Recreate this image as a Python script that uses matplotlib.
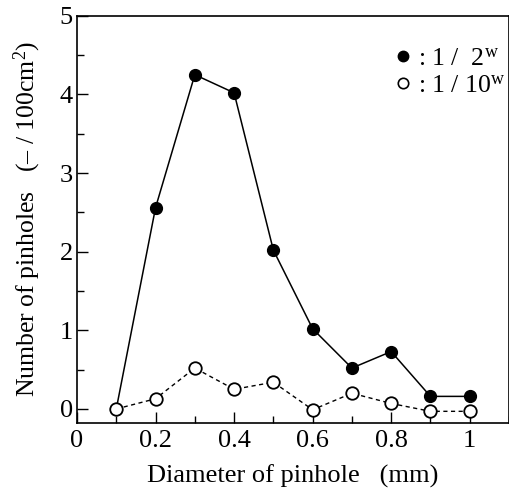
import matplotlib
matplotlib.use('Agg')
import matplotlib.pyplot as plt
from matplotlib.lines import Line2D
from matplotlib.ticker import MultipleLocator

plt.rcParams['font.family'] = ['Liberation Serif', 'DejaVu Serif']
plt.rcParams['mathtext.fontset'] = 'custom'
plt.rcParams['mathtext.rm'] = 'Liberation Serif'
plt.rcParams['mathtext.it'] = 'Liberation Serif:italic'

# diameter of pinhole (mm)
diameter = [0.1, 0.2, 0.3, 0.4, 0.5, 0.6, 0.7, 0.8, 0.9, 1.0]
# pinholes per 100 cm2
n_2w = [0.0, 2.56, 4.25, 4.02, 2.02, 1.02, 0.52, 0.73, 0.16, 0.16]
n_10w = [0.0, 0.13, 0.52, 0.25, 0.34, -0.01, 0.2, 0.07, -0.03, -0.03]

label_2w = r': 1 /  2$^{\mathrm{w}}$'
label_10w = r': 1 / 10$^{\mathrm{w}}$'

fig = plt.figure(figsize=(5.1, 4.92), dpi=100)
ax = fig.add_axes([0.151, 0.140, 0.847, 0.828])

ax.plot(diameter, n_2w, 'k-', lw=1.1, marker='o', ms=8.5, mfc='k', mec='k', zorder=2)
ax.plot(diameter, n_10w, 'k--', lw=1.0, dashes=(3, 2.5), marker='o', ms=9,
        mfc='white', mec='k', mew=1.3, zorder=3)

ax.set_xlim(0, 1.1)
ax.set_ylim(-0.18, 5)
ax.set_xticks([0, 0.2, 0.4, 0.6, 0.8, 1.0])
ax.set_xticklabels(['0', '0.2', '0.4', '0.6', '0.8', '1'])
ax.xaxis.set_minor_locator(MultipleLocator(0.1))
ax.set_yticks([0, 1, 2, 3, 4, 5])
ax.yaxis.set_minor_locator(MultipleLocator(0.5))
ax.tick_params(which='major', direction='in', length=8, width=1.0, labelsize=19, pad=5)
ax.tick_params(axis='y', which='major', pad=3)
ax.tick_params(which='minor', direction='in', length=5, width=1.0)
for s in ax.spines.values():
    s.set_linewidth(1.2)

ax.set_xlabel('Diameter of pinhole   (mm)', fontsize=19, labelpad=9)
ax.set_ylabel('Number of pinholes   (– / 100cm$^2$)', fontsize=18.5, labelpad=12)

handles = [Line2D([], [], ls='none', marker='o', ms=7.5, mfc='k', mec='k'),
           Line2D([], [], ls='none', marker='o', ms=7.5, mfc='white', mec='k', mew=1.2)]
ax.legend(handles, [label_2w, label_10w], loc='upper right', bbox_to_anchor=(1.028, 0.96),
          frameon=False, fontsize=18.5, handletextpad=0.1, handlelength=1.0,
          labelspacing=0.15, borderaxespad=0.2)

fig.savefig('out.png', dpi=100)
